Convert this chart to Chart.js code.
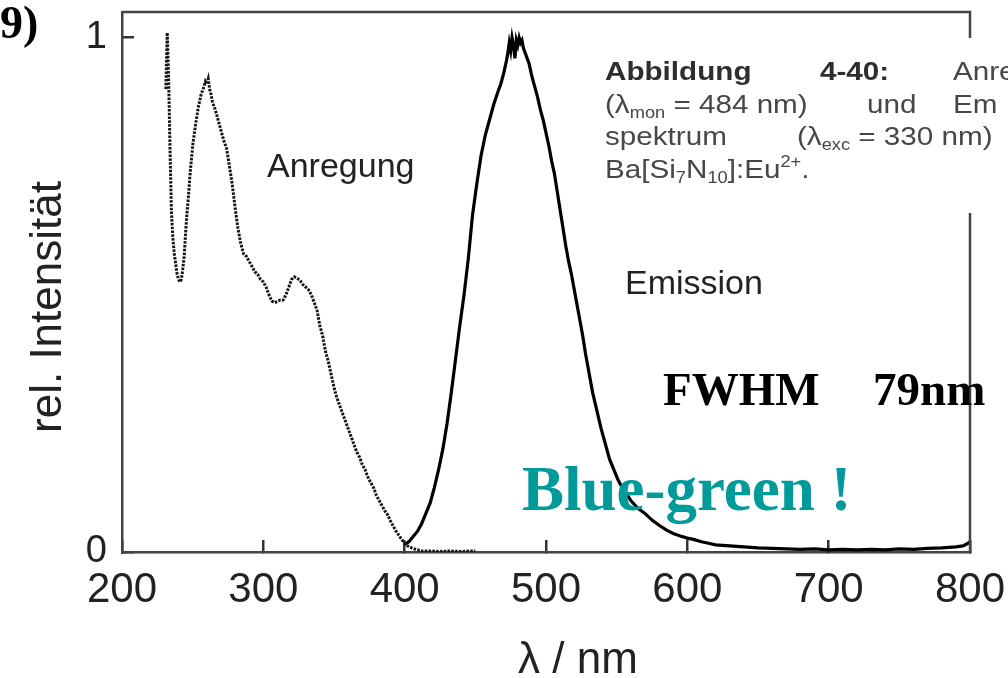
<!DOCTYPE html>
<html>
<head>
<meta charset="utf-8">
<script src="https://cdn.jsdelivr.net/npm/chart.js@4/dist/chart.umd.min.js"></script>
<style>
  html, body { margin: 0; padding: 0; background: #ffffff; }
  #wrap { position: relative; width: 1008px; height: 678px; }
</style>
</head>
<body>
<div id="wrap"><canvas id="c" width="1008" height="678"></canvas></div>
<script>
// Excitation spectrum (lambda_mon = 484 nm)
const excWavelength = [231, 232, 233, 234, 235, 236, 237, 238, 239, 240, 241, 242, 243, 244, 245, 246, 247, 248, 249, 250,
  252, 254, 256, 258, 259, 260, 261, 262, 263, 264, 266, 268, 270, 272, 274, 276, 278, 280, 282, 284,
  286, 288, 290, 292, 294, 296, 298, 300, 302, 304, 306, 308, 310, 312, 314, 316, 318, 320, 322, 324,
  326, 328, 330, 332, 334, 336, 338, 340, 342, 344, 346, 348, 350, 352, 354, 356, 358, 360, 362, 364,
  366, 368, 370, 372, 374, 376, 378, 380, 382, 384, 386, 388, 390, 392, 394, 396, 398, 400, 402, 405,
  408, 412, 418, 425, 432, 440, 446, 450];
const excIntensity = [0.90, 1.01, 0.92, 0.78, 0.66, 0.61, 0.58, 0.56, 0.54, 0.53, 0.525, 0.53, 0.55, 0.575, 0.62, 0.66, 0.69, 0.73, 0.76, 0.79,
  0.83, 0.865, 0.89, 0.905, 0.915, 0.91, 0.92, 0.90, 0.89, 0.875, 0.86, 0.84, 0.82, 0.80, 0.785, 0.75, 0.715, 0.67, 0.63, 0.60,
  0.58, 0.575, 0.565, 0.555, 0.545, 0.54, 0.53, 0.525, 0.515, 0.50, 0.488, 0.485, 0.487, 0.49, 0.49, 0.50, 0.515, 0.53, 0.535, 0.532,
  0.528, 0.52, 0.515, 0.51, 0.50, 0.485, 0.47, 0.44, 0.42, 0.39, 0.37, 0.345, 0.32, 0.30, 0.285, 0.27, 0.255, 0.24, 0.225, 0.21,
  0.195, 0.185, 0.17, 0.16, 0.145, 0.135, 0.125, 0.11, 0.10, 0.09, 0.08, 0.072, 0.06, 0.05, 0.04, 0.032, 0.024, 0.017, 0.012, 0.008,
  0.005, 0.002, 0.002, 0.001, 0.002, 0.001, 0.002, 0.002];

// Emission spectrum (lambda_exc = 330 nm)
const emWavelength = [400, 403, 406, 409, 412, 415, 418, 421, 424, 427, 430, 433, 436, 439, 442, 445, 448, 451, 454, 457,
  460, 463, 466, 468, 470, 472, 473, 474, 475, 476, 477, 478, 479, 480, 481, 482, 483, 484, 486, 488,
  490, 492, 494, 496, 498, 500, 502, 504, 506, 508, 510, 512, 514, 516, 518, 520, 522, 524, 526, 528,
  530, 533, 536, 539, 542, 545, 548, 551, 554, 557, 560, 565, 570, 575, 580, 585, 590, 595, 600, 605,
  610, 615, 620, 630, 640, 650, 660, 670, 680, 690, 700, 710, 720, 730, 740, 750, 760, 770, 780, 790,
  795, 798, 800];
const emIntensity = [0.015, 0.02, 0.03, 0.04, 0.055, 0.075, 0.095, 0.125, 0.16, 0.20, 0.25, 0.31, 0.375, 0.44, 0.50, 0.57, 0.655, 0.715, 0.77, 0.81,
  0.84, 0.87, 0.895, 0.91, 0.93, 0.955, 0.97, 0.99, 0.975, 1.0, 0.985, 0.96, 0.995, 0.985, 1.0, 0.99, 0.995, 0.98, 0.965, 0.95,
  0.925, 0.905, 0.885, 0.86, 0.84, 0.815, 0.79, 0.76, 0.735, 0.70, 0.665, 0.63, 0.595, 0.565, 0.54, 0.51, 0.48, 0.45, 0.42, 0.385,
  0.355, 0.31, 0.275, 0.24, 0.21, 0.18, 0.16, 0.14, 0.125, 0.113, 0.10, 0.085, 0.075, 0.062, 0.052, 0.043, 0.036, 0.031, 0.027, 0.024,
  0.02, 0.017, 0.014, 0.012, 0.01, 0.008, 0.007, 0.006, 0.005, 0.006, 0.004, 0.005, 0.004, 0.005, 0.004, 0.006, 0.005, 0.007, 0.008, 0.01,
  0.012, 0.016, 0.02];

// Axis ticks
const xTickValues = [200, 300, 400, 500, 600, 700, 800];
const yTickValues = [0, 1];

const toPoints = (xs, ys) => xs.map((x, i) => ({ x: x, y: ys[i] }));

const SANS = '"Liberation Sans", Arial, sans-serif';
const SERIF = '"Liberation Serif", "Times New Roman", serif';

// Draws a run of text pieces (normal, subscript, superscript) with a horizontal stretch
function drawRuns(ctx, x, y, runs, sx, color) {
  let cx = x;
  ctx.fillStyle = color;
  ctx.textBaseline = 'alphabetic';
  ctx.textAlign = 'left';
  for (const r of runs) {
    ctx.font = (r.bold ? 'bold ' : '') + r.size + 'px ' + SANS;
    ctx.save();
    ctx.translate(cx, y + (r.dy || 0));
    ctx.scale(sx, 1);
    ctx.fillText(r.t, 0, 0);
    ctx.restore();
    cx += ctx.measureText(r.t).width * sx;
  }
}

// Fixed axis sizes, no extra overflow padding around the plot frame
function fixBox(size, horizontal) {
  return function (s) {
    if (horizontal) s.height = size; else s.width = size;
    s.paddingTop = 0; s.paddingBottom = 0; s.paddingLeft = 0; s.paddingRight = 0;
  };
}

const decorations = {
  id: 'decorations',
  afterDatasetsDraw(chart) {
    const { ctx, chartArea: a } = chart;
    ctx.save();
    // top and right frame lines
    ctx.strokeStyle = '#444';
    ctx.lineWidth = 2.5;
    ctx.beginPath();
    ctx.moveTo(a.left, a.top);
    ctx.lineTo(a.right, a.top);
    ctx.lineTo(a.right, a.bottom);
    ctx.stroke();
    ctx.restore();
  },
  afterDraw(chart) {
    const { ctx } = chart;
    ctx.save();

    // panel number
    ctx.fillStyle = '#000';
    ctx.font = 'bold 46px ' + SERIF;
    ctx.textAlign = 'left';
    ctx.textBaseline = 'alphabetic';
    ctx.fillText('9)', 0, 38);

    // axis titles
    ctx.fillStyle = '#222';
    ctx.font = '44px ' + SANS;
    ctx.textAlign = 'center';
    ctx.fillText('λ / nm', 578, 673);
    ctx.save();
    ctx.translate(61, 307);
    ctx.rotate(-Math.PI / 2);
    ctx.fillText('rel. Intensität', 0, 0);
    ctx.restore();

    // curve labels
    ctx.textAlign = 'left';
    ctx.font = '34px ' + SANS;
    ctx.fillText('Anregung', 267, 177);
    ctx.fillText('Emission', 625, 294);

    // caption box
    ctx.fillStyle = '#ffffff';
    ctx.fillRect(594, 38, 414, 175);
    const sx = 1.14;
    const ink = '#2e2e2e', ink2 = '#474747';
    drawRuns(ctx, 605, 80, [{ t: 'Abbildung', size: 26, bold: true }], sx, ink);
    drawRuns(ctx, 820, 80, [{ t: '4-40:', size: 26, bold: true }], sx, ink);
    drawRuns(ctx, 953, 80, [{ t: 'Anre', size: 26 }], sx, ink2);
    drawRuns(ctx, 605, 113, [{ t: '(λ', size: 26 }, { t: 'mon', size: 16, dy: 5 }, { t: ' = 484 nm)', size: 26 }], sx, ink2);
    drawRuns(ctx, 867, 113, [{ t: 'und', size: 26 }], sx, ink2);
    drawRuns(ctx, 953, 113, [{ t: 'Em', size: 26 }], sx, ink2);
    drawRuns(ctx, 605, 145, [{ t: 'spektrum', size: 26 }], sx, ink2);
    drawRuns(ctx, 797, 145, [{ t: '(λ', size: 26 }, { t: 'exc', size: 16, dy: 5 }, { t: ' = 330 nm)', size: 26 }], sx, ink2);
    drawRuns(ctx, 605, 178, [{ t: 'Ba[Si', size: 26 }, { t: '7', size: 16, dy: 5 }, { t: 'N', size: 26 },
      { t: '10', size: 16, dy: 5 }, { t: ']:Eu', size: 26 }, { t: '2+', size: 16, dy: -11 }, { t: '.', size: 26 }], sx, ink2);

    // annotations
    ctx.fillStyle = '#000';
    ctx.font = 'bold 47px ' + SERIF;
    ctx.fillText('FWHM', 663, 405);
    ctx.fillText('79nm', 873, 405);
    ctx.fillStyle = '#009a9a';
    ctx.font = 'bold 63px ' + SERIF;
    ctx.fillText('Blue-green !', 522, 510);

    ctx.restore();
  }
};

new Chart(document.getElementById('c'), {
  type: 'line',
  data: {
    datasets: [
      {
        label: 'Anregung',
        data: toPoints(excWavelength, excIntensity),
        borderColor: '#151515',
        borderWidth: 3,
        borderDash: [2.5, 1.3],
        pointRadius: 0,
        tension: 0,
        fill: false
      },
      {
        label: 'Emission',
        data: toPoints(emWavelength, emIntensity),
        borderColor: '#000',
        borderWidth: 3.2,
        pointRadius: 0,
        tension: 0,
        fill: false
      }
    ]
  },
  options: {
    responsive: false,
    devicePixelRatio: 1,
    animation: false,
    layout: { padding: { top: 12, right: 38, left: 0, bottom: 0 } },
    plugins: { legend: { display: false }, tooltip: { enabled: false } },
    scales: {
      x: {
        type: 'linear',
        min: 200,
        max: 800,
        afterFit: fixBox(126, true),
        afterBuildTicks(s) { s.ticks = xTickValues.map(v => ({ value: v })); },
        border: { display: true, color: '#444', width: 2.5 },
        grid: { drawOnChartArea: false, drawTicks: true, tickLength: -12, color: '#333', lineWidth: 2.5 },
        ticks: { padding: 25, color: '#222', font: { family: SANS, size: 42 }, callback: v => String(v), maxRotation: 0, autoSkip: false }
      },
      y: {
        type: 'linear',
        min: 0,
        max: 1.05,
        afterFit: fixBox(122, false),
        afterBuildTicks(s) { s.ticks = yTickValues.map(v => ({ value: v })); },
        border: { display: true, color: '#444', width: 2.5 },
        grid: { drawOnChartArea: false, drawTicks: true, tickLength: -12, color: '#333', lineWidth: 2.5 },
        ticks: { padding: 27, color: '#222', font: { family: SANS, size: 38 }, callback: v => String(v) }
      }
    }
  },
  plugins: [decorations]
});
</script>
</body>
</html>
